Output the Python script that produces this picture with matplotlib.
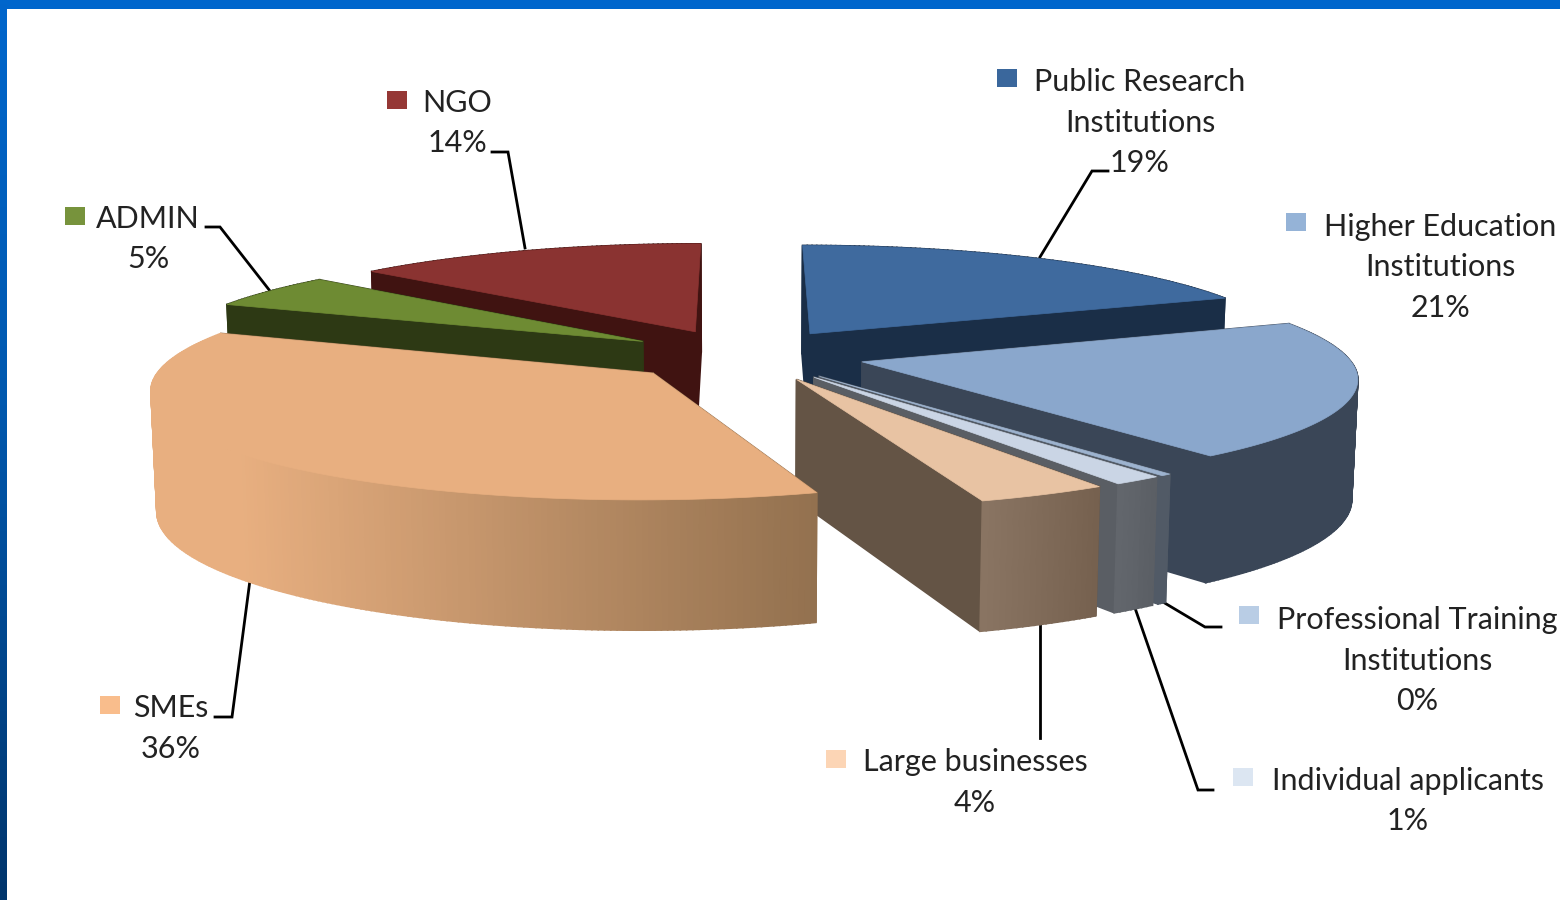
import numpy as np
import matplotlib
matplotlib.use('Agg')
import matplotlib.pyplot as plt
from matplotlib.patches import Polygon, Rectangle
from matplotlib.colors import to_rgb, LinearSegmentedColormap

plt.rcParams['font.family'] = ['Lato', 'DejaVu Sans']

# data, clockwise from 12 o'clock
categories = ['Public Research\nInstitutions', 'Higher Education\nInstitutions',
              'Professional Training\nInstitutions', 'Individual applicants',
              'Large businesses', 'SMEs', 'ADMIN', 'NGO']
shares = [19, 20.75, 0.3, 1.43, 3.78, 36.5, 5.25, 13.65]
share_labels = ['19%', '21%', '0%', '1%', '4%', '36%', '5%', '14%']

# colours per slice
key_colors = ['#3A679C', '#95B3D7', '#B9CDE5', '#DCE6F2', '#FCD5B5', '#F9BD8C', '#77933C', '#953735']
top_colors = ['#3F6A9E', '#8AA7CC', '#9DB3CF', '#CAD5E5', '#E8C3A3', '#E8AF80', '#6E8B33', '#8A3331']
wall_colors = ['#1A2E47', '#3A4657', '#515A66', '#5A5E64', '#645445', '#93714F', '#2D3914', '#401311']
rim_start = ['#1A2E47', '#3A4657', '#515A66', '#5A5E64', '#75604F', '#93714F', '#2D3914', '#401311']
rim_end = ['#1A2E47', '#3A4657', '#515A66', '#63676D', '#8A7562', '#E8AF80', '#2D3914', '#401311']

# projection of the exploded pie
cx, cy = 744, 355
rx, ry = 485, 105
persp = 0.13
depth = 118
explode = 0.25


def project(xw, yw, z=0.0):
    s = 1 / (1 + persp * yw)
    x = cx + rx * xw * s * (1 - 0.01 * z)
    y = cy - ry * yw * s + depth * z * s ** 0.6
    return x, y


def blend(c1, c2, t):
    a, b = np.array(to_rgb(c1)), np.array(to_rgb(c2))
    return tuple(a + (b - a) * t)


fig = plt.figure(figsize=(15.6, 9), dpi=100, facecolor='white')
ax = fig.add_axes([0, 0, 1, 1])

# frame
ax.add_patch(Rectangle((0, 0), 1560, 9, color='#0066CC', lw=0, zorder=5))
cmap = LinearSegmentedColormap.from_list('frame', [(0, '#0066CC'), (0.45, '#0058AE'), (1, '#00356C')])
ax.imshow(np.linspace(0, 1, 200).reshape(-1, 1), extent=(0, 7, 900, 0), cmap=cmap,
          aspect='auto', zorder=5)
ax.set_xlim(0, 1560)
ax.set_ylim(900, 0)
ax.axis('off')

fractions = np.array(shares) / sum(shares)
edges = np.concatenate([[0], np.cumsum(fractions)]) * 2 * np.pi

# painter's order, back slices first
draw_order = [0, 7, 6, 1, 2, 3, 4, 5]
zo = 10


def face(points, color):
    global zo
    ax.add_patch(Polygon(points, closed=True, facecolor=color, edgecolor=color, lw=1.2, zorder=zo))
    zo += 1


for i in draw_order:
    t0, t1 = edges[i], edges[i + 1]
    mid = (t0 + t1) / 2
    ox, oy = explode * np.sin(mid), explode * np.cos(mid)
    th = np.linspace(t0, t1, max(4, int((t1 - t0) * 90)))
    xw, yw = ox + np.sin(th), oy + np.cos(th)

    # radial walls, then the rim, then the top
    for tw in (t0, t1):
        e_x, e_y = ox + np.sin(tw), oy + np.cos(tw)
        face([project(ox, oy), project(e_x, e_y), project(e_x, e_y, 1), project(ox, oy, 1)], wall_colors[i])

    x_first = project(xw[0], yw[0])[0]
    for k in range(len(th) - 1):
        a = project(xw[k], yw[k])
        b = project(xw[k + 1], yw[k + 1])
        c = project(xw[k + 1], yw[k + 1], 1)
        d = project(xw[k], yw[k], 1)
        u = (k + 0.5) / (len(th) - 1)
        # the SME rim darkens evenly across the screen, from about x=240
        if i == 5:
            u = min(1, max(0, (x_first - a[0]) / (x_first - 240)))
        face([a, b, c, d], blend(rim_start[i], rim_end[i], u))

    top = [project(ox, oy)] + [project(px, py) for px, py in zip(xw, yw)]
    ax.add_patch(Polygon(top, closed=True, facecolor=top_colors[i], edgecolor=top_colors[i], lw=0.5, zorder=zo))
    zo += 1

# labels: centre x, first line y, key box, leader line
label_x = [1140, 1440, 1417, 1408, 975, 171, 148, 457]
label_y = [82, 227, 620, 781, 762, 708, 219, 103]
key_x = [997, 1286, 1239, 1233, 826, 100, 65, 387]
key_y = [69, 213, 606, 768, 750, 696, 207, 91]
leaders = [
    [(1108, 171), (1092, 171), (1040, 257)],
    None,
    [(1221, 627), (1205, 627), (1163, 602)],
    [(1213, 790), (1198, 790), (1135, 608)],
    [(1040, 738), (1040, 623)],
    [(215, 717), (232, 717), (250, 580)],
    [(206, 227), (220, 227), (270, 291)],
    [(492, 152), (508, 152), (525, 248)],
]
line_step = 40.5

for i, name in enumerate(categories):
    lines = name.split('\n') + [share_labels[i]]
    for n, line in enumerate(lines):
        ax.text(label_x[i], label_y[i] + n * line_step, line, ha='center', va='center',
                fontsize=22, color='#222222', zorder=2000)
    ax.add_patch(Rectangle((key_x[i], key_y[i]), 20, 18, facecolor=key_colors[i], lw=0, zorder=2000))
    if leaders[i]:
        ax.plot(*zip(*leaders[i]), color='black', lw=2, zorder=5, solid_joinstyle='miter')

fig.savefig('out.png', dpi=100)
